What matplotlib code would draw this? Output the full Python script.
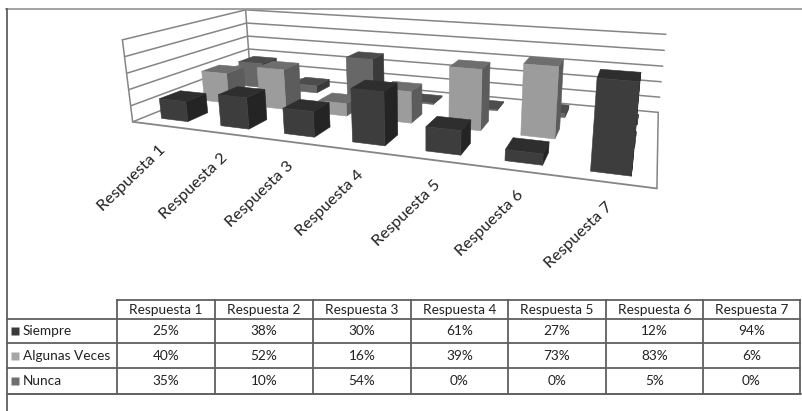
import numpy as np
import matplotlib
matplotlib.use("Agg")
import matplotlib.pyplot as plt
from matplotlib.patches import Polygon

plt.rcParams['font.family'] = ['Lato', 'DejaVu Sans']

# 1. Data
categories = ["Respuesta 1", "Respuesta 2", "Respuesta 3", "Respuesta 4",
              "Respuesta 5", "Respuesta 6", "Respuesta 7"]
series_names = ["Siempre", "Algunas Veces", "Nunca"]
siempre = [25, 38, 30, 61, 27, 12, 94]
algunas = [40, 52, 16, 39, 73, 83, 6]
nunca = [35, 10, 54, 0, 0, 5, 0]
series_values = [siempre, algunas, nunca]

# front, side, top shade per series
shades = [("#3d3d3d", "#242424", "#2e2e2e"),
          ("#9c9c9c", "#5c5c5c", "#6e6e6e"),
          ("#676767", "#3a3a3a", "#4c4c4c")]
legend_colors = ["#3a3a3a", "#a6a6a6", "#6e6e6e"]

# 2. Camera: fit a projective matrix to the corners of the chart box (pixels)
box = [((0, 0, 0), (132, 122)), ((0, 3, 0), (251, 74)), ((7, 3, 0), (658, 113)),
       ((7, 0, 0), (657, 188)), ((0, 0, 1), (123, 40)), ((0, 3, 1), (245, 10)),
       ((7, 3, 1), (666, 34))]
A, b = [], []
for (X, Y, Z), (u, v) in box:
    A.append([X, Y, Z, 1, 0, 0, 0, 0, -u * X, -u * Y, -u * Z])
    A.append([0, 0, 0, 0, X, Y, Z, 1, -v * X, -v * Y, -v * Z])
    b += [u, v]
P = np.append(np.linalg.lstsq(np.array(A, float), np.array(b, float), rcond=None)[0], 1).reshape(3, 4)


def project(x, y, z):
    h = P @ np.array([x, y, z, 1.0])
    return h[0] / h[2], h[1] / h[2]


fig = plt.figure(figsize=(8.02, 4.11), dpi=100)
ax = fig.add_axes([0, 0, 1, 1])
ax.set_xlim(0, 802)
ax.set_ylim(411, 0)
ax.axis("off")

grid = "#858585"


def line3d(p, q, lw=1.1, z=1):
    a, c = project(*p), project(*q)
    ax.plot([a[0], c[0]], [a[1], c[1]], color=grid, lw=lw, zorder=z, solid_capstyle="round")


# 3. Walls and floor
for level in np.arange(0, 1.01, 0.2):
    line3d((0, 0, level), (0, 3, level))
    line3d((0, 3, level), (7, 3, level))
line3d((0, 0, 0), (0, 0, 1))
line3d((0, 3, 0), (0, 3, 1))
line3d((0, 0, 0), (7, 0, 0), lw=1.3)
line3d((7, 0, 0), (7, 3, 0))

# 4. Bars, back row first
bar_w = 0.45
bar_d = 0.46
zo = 2
for s in [2, 1, 0]:
    y0 = s + (1 - bar_d) / 2
    y1 = y0 + bar_d
    for i, val in enumerate(series_values[s]):
        x0 = i + (1 - bar_w) / 2
        x1 = x0 + bar_w
        h = max(val, 1.5) / 100
        front = [project(x0, y0, 0), project(x1, y0, 0), project(x1, y0, h), project(x0, y0, h)]
        side = [project(x1, y0, 0), project(x1, y1, 0), project(x1, y1, h), project(x1, y0, h)]
        top = [project(x0, y0, h), project(x1, y0, h), project(x1, y1, h), project(x0, y1, h)]
        for face, col in zip((side, top, front), (shades[s][1], shades[s][2], shades[s][0])):
            ax.add_patch(Polygon(face, closed=True, fc=col, ec=col, lw=0.4, zorder=zo))
        zo += 1

# 5. Rotated category labels
for i, cat in enumerate(categories):
    px, py = project(i + 0.5, 0, 0)
    ax.text(px - 3, py + 17, cat, rotation=44, rotation_mode="anchor", ha="right", va="top",
            fontsize=11.8, color="#222222", zorder=50)

# 6. Outer frame and data table
tbl = "#5f5f5f"
col_x = [117, 215, 313, 411, 508, 606, 703, 800]
row_y = [300, 319, 343, 368, 394]
ax.plot([6, 802], [9, 9], color="#9a9a9a", lw=1.3)
ax.plot([7, 7], [9, 411], color=tbl, lw=1.3)
ax.plot([7, 802], [394, 394], color="#8a8a8a", lw=1.3)
for y in row_y[1:]:
    ax.plot([7, col_x[-1]], [y, y], color=tbl, lw=1.3)
ax.plot([col_x[0], col_x[-1]], [row_y[0], row_y[0]], color=tbl, lw=1.3)
for x in col_x:
    ax.plot([x, x], [row_y[0], row_y[-1]], color=tbl, lw=1.3)

for j, cat in enumerate(categories):
    ax.text((col_x[j] + col_x[j + 1]) / 2, (row_y[0] + row_y[1]) / 2, cat,
            ha="center", va="center", fontsize=9.8, color="#222222")
for s, name in enumerate(series_names):
    yc = (row_y[s + 1] + row_y[s + 2]) / 2
    ax.plot([15], [yc], marker="s", ms=5.5, color=legend_colors[s], mec="none")
    ax.text(23, yc, name, ha="left", va="center", fontsize=9.8, color="#222222")
    for j, val in enumerate(series_values[s]):
        ax.text((col_x[j] + col_x[j + 1]) / 2, yc, f"{val}%", ha="center", va="center",
                fontsize=9.8, color="#222222")

fig.savefig("out.png", dpi=100)
